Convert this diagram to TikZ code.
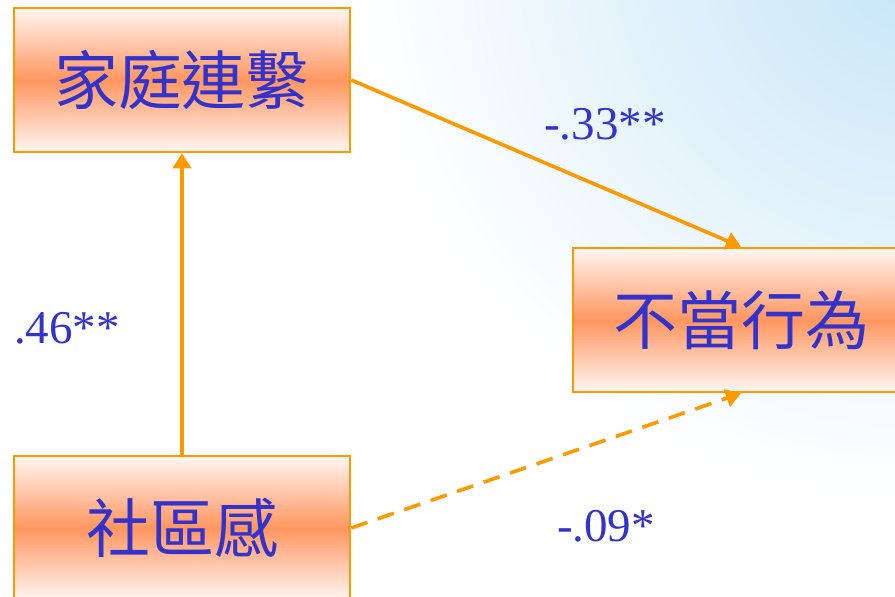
\documentclass[tikz,border=0pt]{standalone}
\usepackage{fontspec}
\setmainfont{Liberation Serif}
\newfontfamily\cjk{Noto Sans CJK TC}
\usetikzlibrary{arrows.meta}
\definecolor{boxorange}{HTML}{FF9900}
\definecolor{labelblue}{HTML}{3333CC}
\definecolor{midorange}{HTML}{FF9660}
\definecolor{toporange}{HTML}{FFF6F2}
\definecolor{skyblue}{HTML}{C4E4F6}
\begin{document}
\begin{tikzpicture}[x=1pt,y=-1pt,
  varbox/.style={draw=boxorange, line width=2.5pt, minimum width=336pt, minimum height=144pt,
    top color=toporange, bottom color=toporange, middle color=midorange,
    text=labelblue, font=\cjk\fontsize{64}{66}\selectfont, inner sep=0pt},
  conn/.style={draw=boxorange, line width=3.6pt, -{Triangle[length=15pt,width=18pt]}},
  coef/.style={text=labelblue, font=\fontsize{47}{49}\selectfont, inner sep=0pt}]
\useasboundingbox (0,0) rectangle (895,597);
\begin{scope}
  \clip (0,0) rectangle (895,597);
  \fill[white] (0,0) rectangle (895,597);
  \shade[inner color=skyblue, outer color=white] (920,-60) circle[radius=560];
  \fill[white] (0,0) rectangle (330,597);
\end{scope}
\node[varbox] (tb) at (182,80) {家庭連繫};
\node[varbox] (nb) at (741,320) {不當行為};
\node[varbox] (sb) at (182,528) {社區感};
\draw[conn] (tb.east) -- (nb.north);
\draw[conn] (sb.north) -- (tb.south);
\draw[conn, dash pattern=on 17pt off 11pt] (sb.east) -- (nb.south);
\node[coef] (c1) at (605,124) {-.33**};
\node[coef] (c2) at (67,328) {.46**};
\node[coef] (c3) at (606,526) {-.09*};
\end{tikzpicture}
\end{document}
